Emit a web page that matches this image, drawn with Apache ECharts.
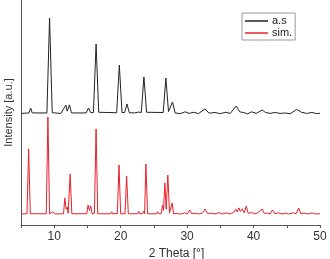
<!DOCTYPE html>
<html>
<head>
<meta charset="utf-8">
<script src="https://cdn.jsdelivr.net/npm/echarts@6/dist/echarts.min.js"></script>
<style>
  html, body { margin: 0; padding: 0; background: #fff; }
  #chart { width: 330px; height: 259px; }
</style>
</head>
<body>
<div id="chart"></div>
<script>
// [2 theta, intensity]; a.s is offset above sim.
const asSynth = [
  [5, 49.6], [6.2, 49.8], [6.45, 52.0], [6.7, 49.8],
  [8.9, 49.8], [9.3, 92.0], [9.7, 49.9],
  [11.0, 49.6], [11.75, 53.3], [11.95, 50.6], [12.3, 53.4], [12.6, 49.8],
  [14.8, 49.8], [15.15, 52.0], [15.5, 49.9],
  [15.9, 50.0], [16.3, 80.4], [16.7, 50.1],
  [19.4, 49.9], [19.8, 71.1], [20.2, 50.0],
  [20.6, 50.0], [20.95, 53.8], [21.3, 49.9],
  [22.1, 49.8], [22.4, 50.6], [22.7, 50.2],
  [23.1, 50.0], [23.5, 65.8], [23.9, 50.1],
  [26.4, 50.0], [26.8, 65.3], [27.2, 50.4],
  [27.5, 50.2], [27.8, 54.7], [28.2, 49.8],
  [29, 49.5], [29.7, 50.3], [30.3, 49.6], [31, 50.1], [31.7, 49.5],
  [32.7, 51.6], [33.3, 49.7], [34.2, 50.0], [35, 49.5], [35.8, 50.1],
  [36.5, 49.6], [37.4, 52.9], [37.9, 50.3], [38.5, 50.0], [39.1, 49.4],
  [39.7, 50.3], [40.4, 49.6], [41.3, 51.1], [41.8, 50.0], [42.5, 49.6],
  [43.2, 50.0], [44, 49.6], [44.8, 49.8], [45.5, 49.4], [46.5, 51.4],
  [47.2, 50.1], [48, 49.6], [48.8, 50.0], [49.5, 49.5], [50, 49.7]
]

const simulated = [
  [5, 4.9], [5.9, 5.0], [6.15, 33.8], [6.4, 5.0],
  [8.8, 5.0], [9.05, 48.0], [9.3, 5.0], [9.8, 5.8], [10.1, 4.9],
  [11.4, 5.0], [11.6, 12.0], [11.8, 7.0], [11.95, 8.0], [12.1, 5.2], [12.4, 22.7], [12.65, 5.0],
  [14.9, 5.0], [15.1, 8.9], [15.3, 6.5], [15.5, 8.5], [15.7, 5.0], [15.9, 5.6], [16.05, 5.2],
  [16.3, 42.7], [16.55, 5.0],
  [18.5, 5.0], [18.65, 5.9], [18.8, 5.0],
  [19.5, 5.1], [19.75, 26.7], [20.0, 5.0],
  [20.65, 5.0], [20.9, 21.8], [21.15, 5.0],
  [22.6, 5.0], [22.75, 6.0], [22.9, 5.0], [23.3, 5.0], [23.45, 6.2], [23.6, 5.0],
  [23.8, 27.1], [24.05, 5.0],
  [25.4, 5.0], [25.55, 5.9], [25.7, 5.0], [26.1, 5.0], [26.3, 8.9], [26.45, 6.5],
  [26.65, 18.7], [26.85, 7.0], [27.1, 22.2], [27.35, 5.4], [27.55, 5.2], [27.75, 9.8], [27.95, 5.0],
  [28.5, 5.2], [29, 4.8], [29.6, 5.4], [30, 4.9], [30.4, 6.7], [30.7, 5.0], [31.2, 5.3],
  [31.7, 4.9], [32.3, 5.3], [32.7, 7.1], [33.1, 5.0], [33.6, 5.3], [34.2, 4.9], [34.8, 5.5],
  [35.3, 4.9], [35.9, 5.4], [36.5, 4.9], [37.0, 5.6], [37.3, 7.0], [37.5, 5.8], [37.8, 7.6],
  [38.0, 6.0], [38.3, 7.2], [38.6, 5.4], [38.9, 8.4], [39.2, 5.2], [39.7, 5.6], [40.2, 4.9],
  [40.7, 5.6], [41.3, 7.1], [41.6, 5.2], [42.1, 5.3], [42.5, 4.9], [42.85, 6.7], [43.2, 5.0],
  [43.7, 5.4], [44.3, 4.9], [44.8, 5.3], [45.3, 4.9], [45.9, 5.4], [46.4, 5.0], [46.8, 7.6],
  [47.1, 5.0], [47.6, 5.3], [48.2, 4.9], [48.8, 5.4], [49.3, 4.9], [50, 5.0]
]

const seriesNames = ['a.s', 'sim.']
const colors = ['#222222', '#e8202a']

const chart = echarts.init(document.getElementById('chart'))

chart.setOption({
  animation: false,
  textStyle: { fontFamily: 'Liberation Sans, Arial, sans-serif' },
  grid: { left: 21, right: 10, top: 0, bottom: 34, outerBoundsMode: 'none', containLabel: false },
  legend: {
    orient: 'vertical',
    left: 242,
    top: 13,
    padding: [2, 3, 1, 3],
    itemGap: 0,
    itemWidth: 23,
    itemHeight: 1.5,
    icon: 'rect',
    borderColor: '#9a9a9a',
    borderWidth: 1,
    textStyle: { fontSize: 11, color: '#222', lineHeight: 12, padding: [0, 0, 0, -1] },
    data: seriesNames
  },
  xAxis: {
    type: 'value',
    min: 5,
    max: 50,
    interval: 5,
    name: '2 Theta [°]',
    nameLocation: 'middle',
    nameGap: 21,
    nameTextStyle: { fontSize: 12, color: '#333', padding: [0, 0, 0, 12] },
    axisLine: { lineStyle: { color: '#555' } },
    axisTick: { length: 3, lineStyle: { color: '#555' } },
    axisLabel: {
      fontSize: 12,
      color: '#333',
      margin: 6,
      formatter: v => (v % 10 === 0 ? v : '')
    },
    splitLine: { show: false }
  },
  yAxis: {
    type: 'value',
    min: 0,
    max: 100,
    name: 'Intensity [a.u.]',
    nameLocation: 'middle',
    nameGap: 7,
    nameTextStyle: { fontSize: 11, color: '#333' },
    axisLine: { show: true, lineStyle: { color: '#555' } },
    axisTick: { show: false },
    axisLabel: { show: false },
    splitLine: { show: false }
  },
  series: [
    {
      name: seriesNames[0],
      type: 'line',
      data: asSynth,
      symbol: 'none',
      lineStyle: { width: 1, color: colors[0] },
      itemStyle: { color: colors[0] }
    },
    {
      name: seriesNames[1],
      type: 'line',
      data: simulated,
      symbol: 'none',
      lineStyle: { width: 1, color: colors[1] },
      itemStyle: { color: colors[1] }
    }
  ]
})
</script>
</body>
</html>
